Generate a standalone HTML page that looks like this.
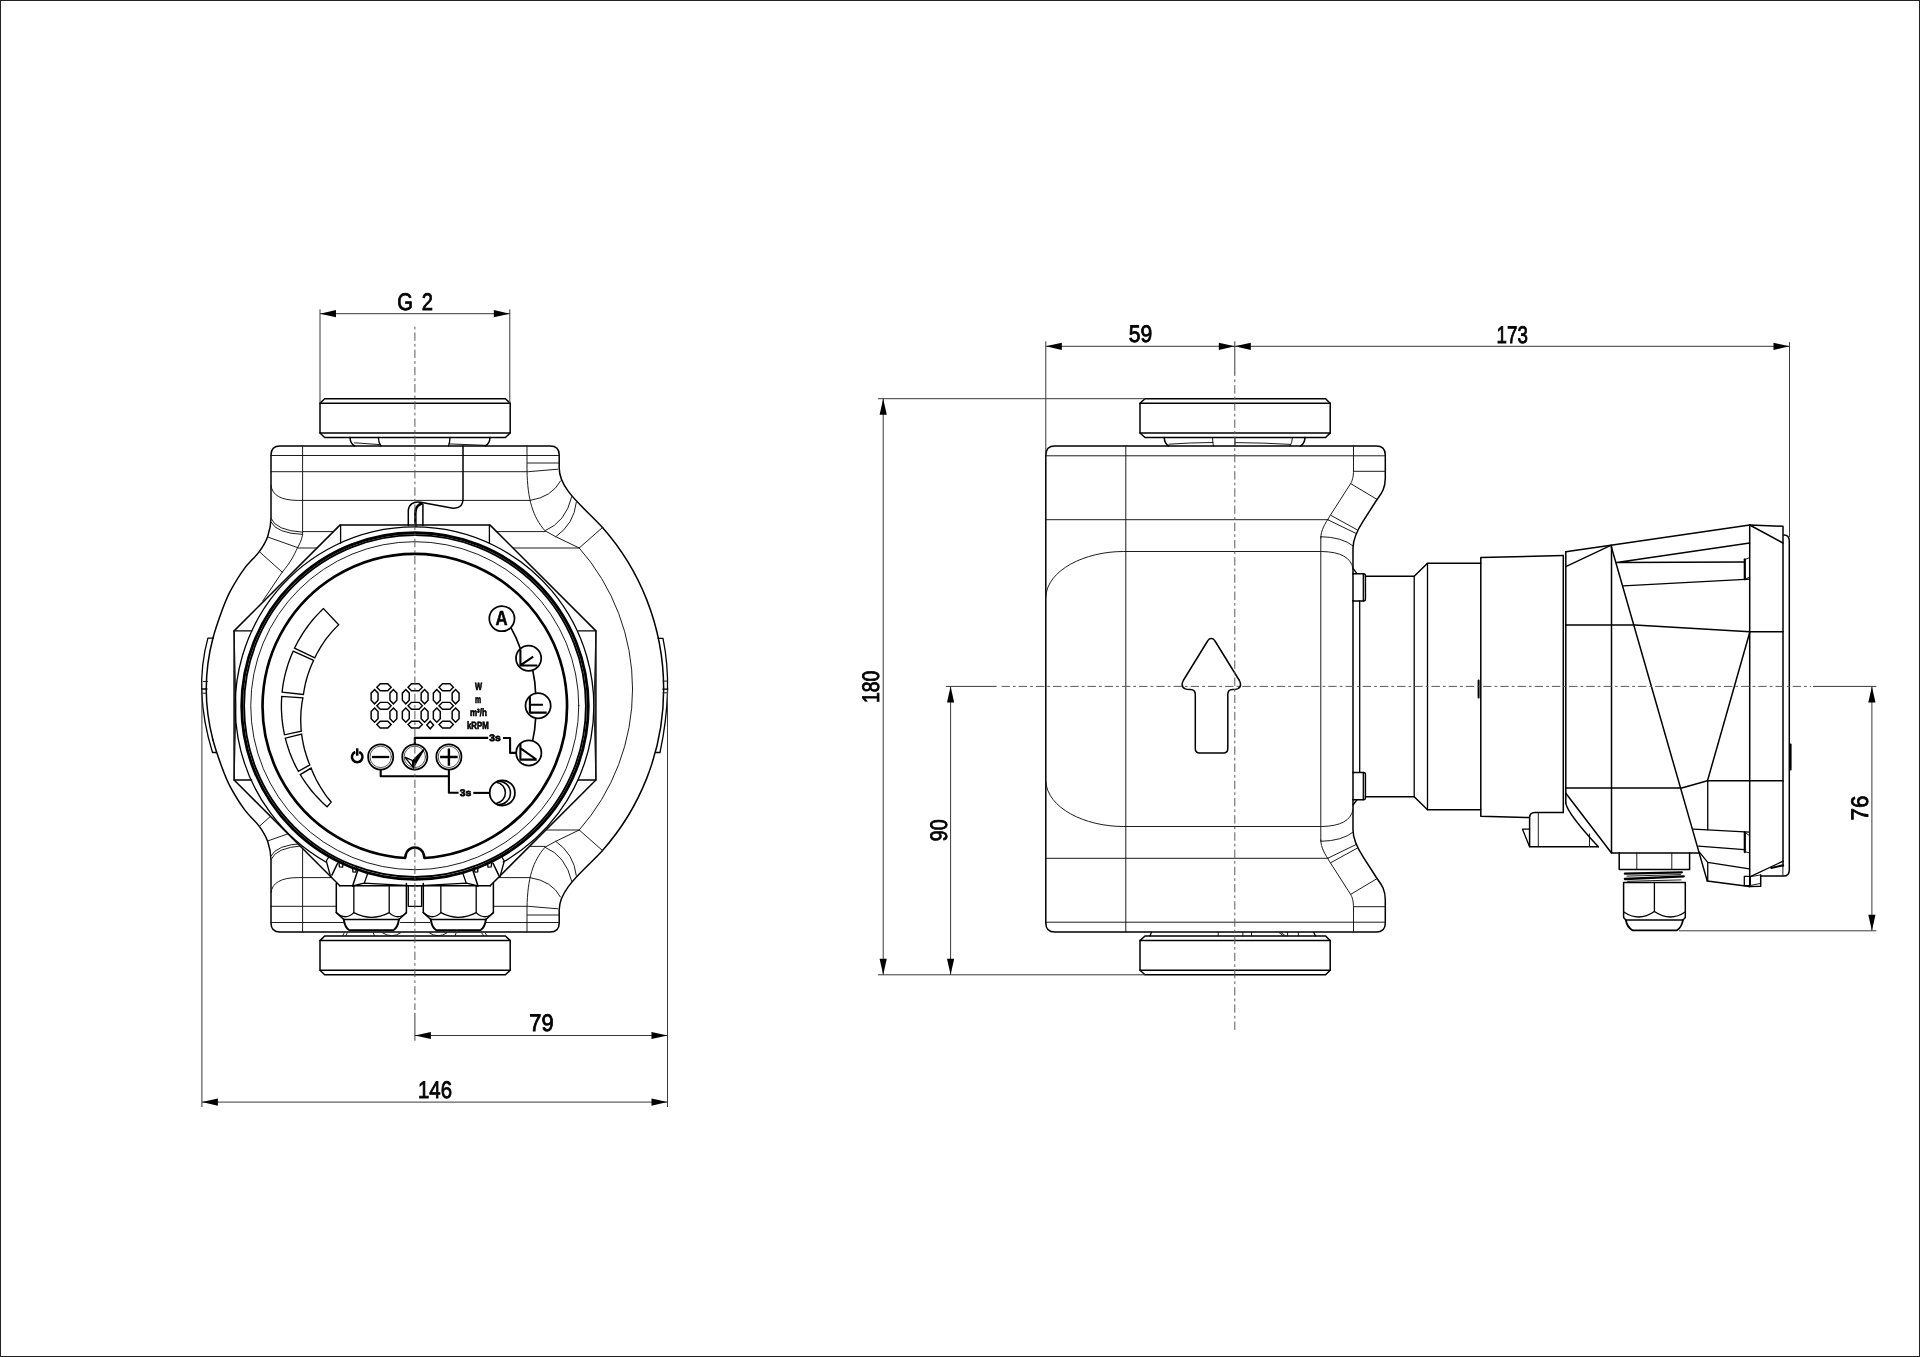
<!DOCTYPE html>
<html><head><meta charset="utf-8"><title>Pump dimensional drawing</title>
<style>
html,body{margin:0;padding:0;background:#fff;}
body{width:1920px;height:1357px;overflow:hidden;font-family:"Liberation Sans",sans-serif;}
svg{display:block}
.k{fill:none;stroke:#000;stroke-width:1.5;stroke-linejoin:round;stroke-linecap:round}
.k2{fill:none;stroke:#000;stroke-width:1.3;stroke-linejoin:round;stroke-linecap:round}
.kk{fill:none;stroke:#000;stroke-width:2.7}
.n{fill:none;stroke:#111;stroke-width:0.95;stroke-linecap:round}
.d{fill:none;stroke:#3a3a3a;stroke-width:1}
.c{fill:none;stroke:#5a5a5a;stroke-width:1}
.f{fill:#000;stroke:none}
.t{fill:#000;stroke:#000;font-family:"Liberation Sans",sans-serif;text-rendering:geometricPrecision}
text{filter:grayscale(1)}
.i{fill:none;stroke:#000;stroke-width:1.5;stroke-linejoin:round;stroke-linecap:butt}
.s{fill:none;stroke:#000;stroke-width:1.45;stroke-linejoin:miter}
</style></head>
<body>
<svg width="1920" height="1357" viewBox="0 0 1920 1357">
<rect x="0" y="0" width="1920" height="1357" fill="#fff"/>
<defs>
<clipPath id="hcl"><path clip-rule="evenodd" d="M0,0H960V1357H0Z M339.9,525.1L490.1,525.1L595.9,630.9L595.9,780L493.3,882.6L493.3,913L486,920L482,931L349,931L344,920L336.3,913L336.3,882.5L234.1,780L234.1,630.9Z"/></clipPath>
</defs>
<!-- RIGHT VIEW -->
<path class="k" d="M1145,398.7H1325.6L1330.2,403.3V433.0L1325.6,437.5H1145L1140,433.0V403.3Z"/>
<path class="k" d="M1140,403.3H1330.2M1140,433.0H1330.2"/>
<path class="k" d="M1145,936.0H1325.6L1330.2,940.6V970.3L1325.6,974.8H1145L1140,970.3V940.6Z"/>
<path class="k" d="M1140,940.6H1330.2M1140,970.3H1330.2"/>
<path class="k" d="M1164.2,437.5Q1164.6,443.6 1168.6,446M1305,437.5Q1304.6,443.6 1300.6,446"/>
<path class="n" d="M1212.5,437.5Q1212.7,443 1213.4,446M1235,437.5V446M1292.5,437.5Q1292,443 1290.2,446"/>
<path class="n" d="M1169,444.2Q1190,442.6 1213,442.5M1235,442.6Q1265,442.8 1290.5,444.4"/>
<path class="k2" d="M1151.4,932.3L1150,936M1313.8,932.3L1315.4,936"/>
<path class="n" d="M1218.2,932.5V936M1242.9,932.5V936M1251.5,932.5V936M1279,932.5L1283.5,936M1281,932.5L1285.5,936M1287.6,932.5V936M1298.4,932.5V936"/>
<path class="k" d="M1045.8,455Q1045.8,446 1054.8,446H1376.3Q1385.3,446 1385.3,455V478.3C1385.3,490 1380,495 1376.7,500L1363.3,520.8C1358,529 1353,538 1353,548V573.7"/>
<g transform="translate(0,1378.0) scale(1,-1)">
<path class="k" d="M1045.8,455Q1045.8,446 1054.8,446H1376.3Q1385.3,446 1385.3,455V478.3C1385.3,490 1380,495 1376.7,500L1363.3,520.8C1358,529 1353,538 1353,548V578.3"/>
</g>
<path class="k" d="M1045.8,455L1045.8,923"/>
<path class="k" d="M1353,600.8L1353,772.5"/>
<path class="k2" d="M1359.7,601L1359.7,772.3"/>
<path class="n" d="M1045.8,455.8H1384.6"/>
<path class="n" d="M1045.8,519.7H1328.4"/>
<path class="n" d="M1045.8,596.7C1047,570 1085,551.5 1123.3,551.5H1321.7Q1350,552 1353,568.3"/>
<path class="n" d="M1353.5,446V470C1353.5,478 1352,481 1350.8,483.3L1330,515.8C1325,524 1320.8,530 1320.8,538"/>
<path class="n" d="M1353.5,471.3H1385"/>
<path class="n" d="M1320.8,536.7Q1342,537 1353.3,546"/>
<path class="n" d="M1350.8,483.7L1376.7,499.2"/>
<path class="n" d="M1330.8,515.3L1357.5,530"/>
<path class="n" d="M1328.3,520L1355.8,533.3"/>
<g transform="translate(0,1378.0) scale(1,-1)">
<path class="n" d="M1045.8,455.8H1384.6"/>
<path class="n" d="M1045.8,519.7H1328.4"/>
<path class="n" d="M1045.8,596.7C1047,570 1085,551.5 1123.3,551.5H1321.7Q1350,552 1353,568.3"/>
<path class="n" d="M1353.5,446V470C1353.5,478 1352,481 1350.8,483.3L1330,515.8C1325,524 1320.8,530 1320.8,538"/>
<path class="n" d="M1353.5,471.3H1385"/>
<path class="n" d="M1320.8,536.7Q1342,537 1353.3,546"/>
<path class="n" d="M1350.8,483.7L1376.7,499.2"/>
<path class="n" d="M1330.8,515.3L1357.5,530"/>
<path class="n" d="M1328.3,520L1355.8,533.3"/>
</g>
<path class="n" d="M1125.8,446L1125.8,932"/>
<path class="n" d="M1320.8,537L1320.8,841"/>
<path class="k" d="M1211.3,638.6Q1213.6,638.4 1215,641L1239.4,680.5Q1242.3,686 1238,688.6Q1236,689.6 1232.3,689.6Q1227.8,689.8 1227.8,694.5V748.5Q1227.8,753 1223.3,753H1199.8Q1195.3,753 1195.3,748.5V694.5Q1195.3,689.8 1190.5,689.6Q1186.5,689.6 1184.6,688.6Q1180.4,686 1183.3,680.5L1207.6,641Q1209,638.4 1211.3,638.6Z"/>
<path class="k" d="M1353,573.7H1363.6Q1365.4,573.7 1365.4,575.7V598.9Q1365.4,600.9 1363.6,600.9H1353"/>
<path class="k2" d="M1363.3,573.7L1363.3,600.9"/>
<path class="k" d="M1353,573.7L1353,600.9"/>
<path class="k" d="M1353,772.5H1363.6Q1365.4,772.5 1365.4,774.5V797.7Q1365.4,799.7 1363.6,799.7H1353"/>
<path class="k2" d="M1363.3,772.5L1363.3,799.7"/>
<path class="k" d="M1353,772.5L1353,799.7"/>
<path class="k2" d="M1353,568.3L1356.8,573.4M1353,805L1356.8,800"/>
<path class="k" d="M1365.4,576.3H1414.2L1427.5,563.3H1480.8M1365.4,796.7H1414.2L1427.5,809.7H1480.8"/>
<path class="k2" d="M1414.2,576.3L1414.2,796.7"/>
<path class="k2" d="M1427.5,563.3L1427.5,809.7"/>
<path class="k" d="M1480.8,557.5V816.3M1480.8,557.5L1563.3,555.5M1480.8,816.3L1529,817.5"/>
<path class="k" d="M1563.3,555.5V812.4M1565.8,551.7V803.3"/>
<path class="k" d="M1478.6,680.5V697.5" style="stroke-width:2"/>
<path class="k" d="M1563.3,812.5H1535Q1529.6,812.6 1529.6,817.5V846.7H1598.3"/>
<path class="k2" d="M1529.6,829.2H1522.5L1529.6,846.7"/>
<path class="n" d="M1538.3,813L1538.3,846.5"/>
<path class="n" d="M1589.5,834L1589.5,846.5"/>
<path class="k" d="M1565.8,551.7L1610.8,545.3L1749.7,525L1783,526.3V866.5"/>
<path class="k2" d="M1565.8,566.7L1610.8,545.3"/>
<path class="k" d="M1611.5,545.3V852.9H1699.4"/>
<path class="k" d="M1749.7,525L1749.7,886.7"/>
<path class="k" d="M1784,535Q1789.3,535 1789.3,541V870Q1789.3,876.1 1783.5,876.1H1760.7M1760.7,874.9V886.3L1749.4,886.6L1707.2,880.9"/>
<path class="k" d="M1749.7,525L1783,543"/>
<path class="k2" d="M1616.7,562.5L1749.7,543M1616.7,562.5L1744.2,562M1623.3,585.8L1749.7,579.2"/>
<path class="k" d="M1744.8,559.3V579.3" style="stroke-width:2.2"/>
<path class="n" d="M1745,559.6L1749.3,557.8M1745,579.2L1749.3,577.2"/>
<path class="k" d="M1611.3,546.7L1707.2,880.9"/>
<path class="k" d="M1565.8,625H1635L1749.7,631.7H1783"/>
<path class="k" d="M1749.7,632.5L1707.5,780.8"/>
<path class="k" d="M1565.8,788H1681.7L1707.5,780.8H1783"/>
<path class="k2" d="M1707.75,780.8V829.7M1707.75,862.3V880.9"/>
<path class="k" d="M1565.8,793.3L1611.5,853"/>
<path class="k" d="M1565.8,803.3Q1568,814 1598.3,846.7"/>
<path class="k2" d="M1693.4,829.1L1749.4,832.1M1698.5,846.1L1744.3,849.7M1699.4,852.1L1707.75,862.3L1749.4,868.9"/>
<path class="k" d="M1744.8,832.4V852.1" style="stroke-width:2.2"/>
<path class="n" d="M1745,832.6L1749.4,835.5M1745,851.8L1749.4,852.8"/>
<path class="k2" d="M1744.3,876.4H1750.3V885.7H1744.3Z"/>
<path class="n" d="M1750.3,876.7L1760.7,874.9M1750.3,885.5L1760.7,883.4"/>
<path class="k2" d="M1750.3,876.7L1783.2,861.1"/>
<path class="k" d="M1771.2,867.9L1783.2,865.2" style="stroke-width:2"/>
<path class="n" d="M1782.9,867L1782.9,875.4"/>
<path class="k" d="M1790.6,744.5V769.5" style="stroke-width:2"/>
<path class="k" d="M1619.2,853V869.6H1689.6V853"/>
<path class="n" d="M1636.8,853V869.6M1671.8,853V869.6"/>
<path class="k" d="M1624.9,873.7L1681.8,872.3M1624.9,879L1683.8,876.3" style="stroke-width:2.3"/>
<path class="n" d="M1627,876.1L1680.5,874.6M1627.5,881.3L1681,879.9"/>
<path class="k" d="M1623.6,882.4H1685.3V917.4L1682.9,920M1623.6,882.4V917.4L1625.8,920"/>
<path class="k2" d="M1654.4,882.4L1654.4,911.6"/>
<path class="k2" d="M1623.8,912Q1639,922.2 1654.4,911.5Q1670,922.2 1685.2,912"/>
<path class="k2" d="M1625.8,920H1682.9"/>
<path class="k" d="M1625.8,920Q1627,926.8 1632.4,930.3H1677Q1682,926.8 1682.9,920" style="stroke-width:1.8"/>
<!-- LEFT VIEW -->
<path class="k" d="M324.7,398.7H505.4L510.2,403.3V433.0L505.4,437.5H324.7L320,433.0V403.3Z"/>
<path class="k" d="M320,403.3H510.2M320,433.0H510.2"/>
<path class="k" d="M324.7,936.0H505.4L510.2,940.6V970.3L505.4,974.8H324.7L320,970.3V940.6Z"/>
<path class="k" d="M320,940.6H510.2M320,970.3H510.2"/>
<path class="k" d="M350,437.5Q350.3,443.6 354.6,446 M490,437.5Q489.7,443.6 485.4,446"/>
<path class="k2" d="M378.3,437.5Q378.6,443 381,446 M450,437.5Q449.7,443 448.6,446"/>
<path class="n" d="M354.5,442.8L380,444.6M449,443.9L485.5,445.3"/>
<path class="k" d="M212.9,638.3C215.2,629.5 219.3,617.9 222.2,610C225.1,602.1 226.6,598.1 230.3,591.1C234.1,584.1 239.8,574.7 244.7,568.1C249.6,561.5 255.7,556.7 259.5,551.4C263.3,546.1 265.8,542 267.7,536.5C269.6,531 270.9,524.4 271,518.3V455Q271,446 280,446H550.2Q559.2,446 559.2,455V468C559.2,490 585,508 602.5,527.5"/>
<g transform="translate(0,1378.0) scale(1,-1)">
<path class="k" d="M212.9,638.3C215.2,629.5 219.3,617.9 222.2,610C225.1,602.1 226.6,598.1 230.3,591.1C234.1,584.1 239.8,574.7 244.7,568.1C249.6,561.5 255.7,556.7 259.5,551.4C263.3,546.1 265.8,542 267.7,536.5C269.6,531 270.9,524.4 271,518.3V455Q271,446 280,446H550.2Q559.2,446 559.2,455V468C559.2,490 585,508 602.5,527.5"/>
</g>
<path class="k" d="M212.9,638.3A200,200 0 0 0 212.9,739.7"/>
<path class="k" d="M602.5,527.5A243.8,243.8 0 0 1 602.5,850.5"/>
<path class="k2" d="M212.8,638.2H207.9Q193.4,690.6 212.5,752.5H215.9"/>
<path class="n" d="M203.2,681.5H207.4M202.6,693.2H206.6"/>
<path class="k2" d="M202.2,689H207"/>
<path class="k2" d="M658.2,638.3H663Q673.5,688.6 660,752.5H655.6"/>
<path class="n" d="M663,681.1H667.4M663.2,692.8H667.6"/>
<path class="k2" d="M662.8,689.1H667.8"/>
<g clip-path="url(#hcl)">
<path class="n" d="M270.8,455.5H558.5"/>
<path class="n" d="M270.8,471.7H528.3L557.8,469.2"/>
<path class="n" d="M527.5,463H558.5"/>
<path class="n" d="M271,485.3Q272.5,500.4 298.3,500.4H530Q552,497 560.5,481"/>
<path class="n" d="M302.6,531.6H545"/>
<path class="n" d="M298.5,548H579.2"/>
<path class="n" d="M302.6,446V534.6C301.5,541 299.5,544 297.4,548C294,555 291,562 282,572.4L262.9,600.7"/>
<path class="n" d="M271,518.3Q275.5,530.5 302.6,532.2"/>
<path class="n" d="M271,522.1Q276.5,533.3 302.6,534.4"/>
<path class="n" d="M268.2,537.2L297.9,547.7"/>
<path class="n" d="M259.5,551.8L282.5,572.4"/>
<path class="n" d="M527,446V470C527.5,500 533,517 545,530.8L555.8,536.7L579.2,548"/>
<path class="n" d="M545,530.8Q566,522 571.7,496.7"/>
<path class="n" d="M555.8,536.7Q574,524 576.3,502.5"/>
<path class="n" d="M579.2,548L602.5,527.5"/>
<g transform="translate(0,1378.0) scale(1,-1)">
<path class="n" d="M270.8,455.5H558.5"/>
<path class="n" d="M270.8,471.7H528.3L557.8,469.2"/>
<path class="n" d="M527.5,463H558.5"/>
<path class="n" d="M271,485.3Q272.5,500.4 298.3,500.4H530Q552,497 560.5,481"/>
<path class="n" d="M302.6,531.6H545"/>
<path class="n" d="M298.5,548H579.2"/>
<path class="n" d="M302.6,446V534.6C301.5,541 299.5,544 297.4,548C294,555 291,562 282,572.4L262.9,600.7"/>
<path class="n" d="M271,518.3Q275.5,530.5 302.6,532.2"/>
<path class="n" d="M271,522.1Q276.5,533.3 302.6,534.4"/>
<path class="n" d="M268.2,537.2L297.9,547.7"/>
<path class="n" d="M259.5,551.8L282.5,572.4"/>
<path class="n" d="M527,446V470C527.5,500 533,517 545,530.8L555.8,536.7L579.2,548"/>
<path class="n" d="M545,530.8Q566,522 571.7,496.7"/>
<path class="n" d="M555.8,536.7Q574,524 576.3,502.5"/>
<path class="n" d="M579.2,548L602.5,527.5"/>
</g>
<path class="n" d="M579.2,548A212.6,212.6 0 0 1 579.2,830"/>
</g>
<path class="k" d="M463,446V498.3Q463,508.8 453,508.3L420.6,502.2C414,501 408.3,504 408.3,511.4V525.5"/>
<path class="k" d="M421.6,503.5C417.5,505 415.4,508 415.4,513V526" style="stroke-width:2.5"/>
<path class="k" d="M422.9,504.6V525.5"/>
<path class="k" d="M339.9,525.1H490.1L595.9,630.9V780L490.2,885.7 M339.9,525.1L234.1,630.9V780L339.8,885.7"/>
<path class="k2" d="M234.1,630.9H251.7M595.9,630.9H578.3M340.6,525.1V543M489.4,525.1V543"/>
<path class="k2" d="M234.1,780H251.7M595.9,780H578.3"/>
<path class="n" d="M234.1,630.9L236,706L234.1,780M595.9,630.9L594,706L595.9,780"/>
<path class="k2" d="M503.2,862A179.3,179.3 0 1 0 325.8,862"/>
<circle class="k" cx="415" cy="706.05" r="173.3" style="stroke-width:2.8"/>
<circle class="k" cx="415" cy="706.05" r="170.9" style="stroke-width:1.85"/>
<circle class="n" cx="414.75" cy="705.7" r="164"/>
<path class="k" d="M424.5,858L423.8,854.8A9.2,9.2 0 0 0 405.8,854.8L405.1,858A152.25,152.25 0 1 1 424.5,858" style="stroke-width:2.65"/>
<path class="k" d="M340,885.7H490.4"/>
<path class="k" d="M336.3,883.4V912.6M406.4,883.4V912.6"/>
<path class="k2" d="M353.85,886V912.6M389.2,886V912.6"/>
<path class="k2" d="M336.3,912.6Q345.08,920.8 353.85,912.6Q371.52,922 389.2,912.6Q397.8,920.8 406.4,912.6"/>
<path class="k" d="M336.3,912.6L343.8,919.5M406.4,912.6L398.9,919.5"/>
<path class="k2" d="M343.8,919.5H398.9"/>
<path class="k" d="M343.8,919.5Q344.9,927.5 349.3,930.2H393.4Q397.8,927.5 398.9,919.5" style="stroke-width:1.9"/>
<path class="k" d="M423.3,883.4V912.6M493.4,883.4V912.6"/>
<path class="k2" d="M440.85,886V912.6M476.2,886V912.6"/>
<path class="k2" d="M423.3,912.6Q432.08,920.8 440.85,912.6Q458.52,922 476.2,912.6Q484.8,920.8 493.4,912.6"/>
<path class="k" d="M423.3,912.6L430.8,919.5M493.4,912.6L485.9,919.5"/>
<path class="k2" d="M430.8,919.5H485.9"/>
<path class="k" d="M430.8,919.5Q431.9,927.5 436.3,930.2H480.4Q484.8,927.5 485.9,919.5" style="stroke-width:1.9"/>
<path class="k2" d="M408.3,886V906.3H421.6V886"/>
<path class="k2" d="M326.3,861L330.7,877M326.3,861L328.5,857.5"/>
<path class="k" d="M331.9,875.1L337.6,863.2"/>
<path class="k2" d="M338.8,861.6L339.4,866.9L342.6,867.2L343.2,862.5"/>
<path class="k2" d="M352.6,867.2L352.9,871.9L355.7,872.2L356.7,867.5"/>
<path class="k" d="M352.6,886L357.9,870"/>
<path class="k2" d="M364.5,882.6L367.6,873.8"/>
<path class="k2" d="M352.6,886L363.9,883.2L414,885.9"/>
<g transform="translate(830.6,0) scale(-1,1)">
<path class="k2" d="M326.3,861L330.7,877M326.3,861L328.5,857.5"/>
<path class="k" d="M331.9,875.1L337.6,863.2"/>
<path class="k2" d="M338.8,861.6L339.4,866.9L342.6,867.2L343.2,862.5"/>
<path class="k2" d="M352.6,867.2L352.9,871.9L355.7,872.2L356.7,867.5"/>
<path class="k" d="M352.6,886L357.9,870"/>
<path class="k2" d="M364.5,882.6L367.6,873.8"/>
<path class="k2" d="M352.6,886L363.9,883.2L414,885.9"/>
</g>
<path class="n" d="M344.2,933L342.6,935.8M347.3,933L345.7,935.8M373.3,933L374.4,935.8M382.7,933Q392,938.6 400.4,933M429.6,933Q437.9,938.6 446.8,933M456.1,933L455.1,935.8M481.7,933L483.7,935.8M485.3,933L486.9,935.8"/>
<path class="n" d="M400.5,922.5H429.8"/>
<path class="s" d="M323.5,608.6L320.5,611.4L317.7,614.4L314.9,617.4L312.2,620.5L309.7,623.7L307.2,627.0L304.8,630.4L302.5,633.8L300.4,637.3L298.3,640.8L296.4,644.5L294.5,648.1L314.8,657.9L316.3,654.8L317.9,651.8L319.6,648.8L321.4,645.9L323.3,643.0L325.2,640.2L327.3,637.4L329.4,634.8L331.6,632.1L333.9,629.6L336.3,627.1L338.7,624.7Z" style="stroke-width:1.35"/>
<path class="s" d="M293.2,651.1L291.7,654.4L290.4,657.7L289.2,661.0L288.0,664.4L287.0,667.8L286.0,671.2L285.1,674.7L284.3,678.2L283.6,681.7L283.0,685.2L282.5,688.7L282.1,692.2L303.4,694.4L303.9,691.5L304.4,688.5L305.0,685.6L305.6,682.7L306.4,679.8L307.2,676.9L308.1,674.1L309.1,671.3L310.1,668.5L311.2,665.7L312.4,663.0L313.6,660.3Z" style="stroke-width:1.35"/>
<path class="s" d="M281.7,696.4L281.6,699.6L281.4,702.8L281.4,706.1L281.4,709.3L281.6,712.5L281.8,715.7L282.0,718.9L282.4,722.1L282.8,725.3L283.3,728.4L283.9,731.6L284.5,734.8L301.3,731.1L301.0,728.3L300.9,725.5L300.8,722.7L300.7,719.9L300.8,717.1L300.9,714.3L301.0,711.5L301.3,708.8L301.6,706.0L301.9,703.3L302.4,700.6L302.9,697.9Z" style="stroke-width:1.35"/>
<path class="s" d="M285.3,738.2L286.1,741.1L286.9,743.9L287.8,746.8L288.7,749.6L289.7,752.4L290.8,755.2L291.9,757.9L293.1,760.7L294.3,763.4L295.6,766.1L297.0,768.7L298.4,771.3L309.8,764.9L308.8,762.4L307.9,759.9L307.0,757.4L306.1,754.8L305.4,752.3L304.6,749.7L304.0,747.1L303.4,744.5L302.9,741.9L302.4,739.3L302.0,736.7L301.6,734.1Z" style="stroke-width:1.35"/>
<path class="s" d="M300.3,774.6L302.1,777.5L304.0,780.5L306.0,783.4L308.1,786.2L310.2,789.0L312.4,791.7L314.7,794.4L317.1,797.0L319.5,799.5L321.9,802.0L324.5,804.4L327.1,806.7L331.2,802.1L329.1,799.5L327.0,796.8L325.0,794.1L323.2,791.3L321.3,788.5L319.6,785.7L318.0,782.9L316.4,780.0L315.0,777.0L313.6,774.1L312.3,771.1L311.1,768.1Z" style="stroke-width:1.35"/>
<path class="s" d="M376.85,687.2L380.25,683.75H387.75L391.15,687.2L387.75,690.65H380.25ZM376.85,705.8L380.25,702.35H387.75L391.15,705.8L387.75,709.25H380.25ZM376.85,724.6L380.25,721.15H387.75L391.15,724.6L387.75,728.05H380.25ZM374.6,689.55L378.05,693.15V700.25L374.6,703.85L371.15,700.25V693.15ZM393.4,689.55L396.85,693.15V700.25L393.4,703.85L389.95,700.25V693.15ZM374.6,707.95L378.05,711.55V718.65L374.6,722.25L371.15,718.65V711.55ZM393.4,707.95L396.85,711.55V718.65L393.4,722.25L389.95,718.65V711.55Z"/>
<path class="s" d="M408.05,687.2L411.45,683.75H418.95L422.35,687.2L418.95,690.65H411.45ZM408.05,705.8L411.45,702.35H418.95L422.35,705.8L418.95,709.25H411.45ZM408.05,724.6L411.45,721.15H418.95L422.35,724.6L418.95,728.05H411.45ZM405.8,689.55L409.25,693.15V700.25L405.8,703.85L402.35,700.25V693.15ZM424.6,689.55L428.05,693.15V700.25L424.6,703.85L421.15,700.25V693.15ZM405.8,707.95L409.25,711.55V718.65L405.8,722.25L402.35,718.65V711.55ZM424.6,707.95L428.05,711.55V718.65L424.6,722.25L421.15,718.65V711.55Z"/>
<path class="s" d="M439.05,687.2L442.45,683.75H449.95L453.35,687.2L449.95,690.65H442.45ZM439.05,705.8L442.45,702.35H449.95L453.35,705.8L449.95,709.25H442.45ZM439.05,724.6L442.45,721.15H449.95L453.35,724.6L449.95,728.05H442.45ZM436.8,689.55L440.25,693.15V700.25L436.8,703.85L433.35,700.25V693.15ZM455.6,689.55L459.05,693.15V700.25L455.6,703.85L452.15,700.25V693.15ZM436.8,707.95L440.25,711.55V718.65L436.8,722.25L433.35,718.65V711.55ZM455.6,707.95L459.05,711.55V718.65L455.6,722.25L452.15,718.65V711.55Z"/>
<path class="s" d="M430.2,721.2L433.6,725L430.2,728.8L426.8,725Z"/>
<text class="t" transform="translate(478.5,689.8) scale(0.72,1)" font-size="10.4" font-weight="bold" text-anchor="middle" stroke-width="0.7">W</text>
<text class="t" transform="translate(478.1,702.8) scale(0.66,1)" font-size="10.4" font-weight="bold" text-anchor="middle" stroke-width="0.7">m</text>
<text class="t" transform="translate(478.4,715.8) scale(0.77,1)" font-size="10.4" font-weight="bold" text-anchor="middle" stroke-width="0.7">m³/h</text>
<text class="t" transform="translate(477.8,728.8) scale(0.75,1)" font-size="10.4" font-weight="bold" text-anchor="middle" stroke-width="0.7">kRPM</text>
<circle class="i" cx="380.7" cy="756.9" r="12.6" style="stroke-width:1.75"/>
<circle class="n" cx="380.7" cy="756.9" r="10.7" style="stroke:#444;stroke-width:0.9"/>
<circle class="i" cx="414.8" cy="756.9" r="12.6" style="stroke-width:1.75"/>
<circle class="n" cx="414.8" cy="756.9" r="10.7" style="stroke:#444;stroke-width:0.9"/>
<circle class="i" cx="448.9" cy="756.9" r="12.6" style="stroke-width:1.75"/>
<circle class="n" cx="448.9" cy="756.9" r="10.7" style="stroke:#444;stroke-width:0.9"/>
<path class="i" d="M371.9,757H389.2" style="stroke-width:2.3"/>
<path class="i" d="M440.1,757H457.7M448.9,748.4V765.7" style="stroke-width:2.4"/>
<path class="f" d="M412,760.6L423.3,748.9L424.4,749.9L413.8,767.9L412.6,767.2Z"/>
<path class="k" d="M404.8,757.2L412.3,760.5L413.2,767.4Z" style="stroke-width:1.3;stroke-linejoin:miter"/>
<path class="i" d="M355.2,752A5.3,5.3 0 1 0 359.2,752" style="stroke-width:2.5"/>
<path class="i" d="M357.2,748.3V755.7" style="stroke-width:2.5"/>
<path class="i" d="M414.8,744.2V737.9H488.2" style="stroke-width:2.1"/>
<path class="i" d="M503,738H510.1V752.9H516.3" style="stroke-width:2.1"/>
<path class="i" d="M380.7,769.5V776.3H448.9" style="stroke-width:2.1"/>
<path class="i" d="M448.9,769.5V792.7H458.6" style="stroke-width:2.1"/>
<path class="i" d="M473.3,792.9H489.3" style="stroke-width:2.1"/>
<text class="t" transform="translate(494.9,741.3) scale(1.08,1)" font-size="9.6" font-weight="bold" text-anchor="middle" stroke-width="0.7">3s</text>
<text class="t" transform="translate(465.6,795.8) scale(1.08,1)" font-size="9.6" font-weight="bold" text-anchor="middle" stroke-width="0.7">3s</text>
<path class="i" d="M510.9,627.6A123,123 0 0 1 520.3,648.6" style="stroke-width:1.65"/>
<path class="i" d="M532.8,670.5A123,123 0 0 1 535.6,693" style="stroke-width:1.65"/>
<path class="i" d="M535.6,718.6A123,123 0 0 1 532.6,740.9" style="stroke-width:1.65"/>
<circle class="i" cx="501.9" cy="618.6" r="12.6" style="stroke-width:1.75"/>
<circle class="i" cx="528.6" cy="658.2" r="12.6" style="stroke-width:1.75"/>
<circle class="i" cx="538.1" cy="705.7" r="12.6" style="stroke-width:1.75"/>
<circle class="i" cx="528.8" cy="752.9" r="12.6" style="stroke-width:1.75"/>
<circle class="i" cx="502.3" cy="792.9" r="12.6" style="stroke-width:1.75"/>
<text class="t" transform="translate(501.6,624.7) scale(0.83,1)" font-size="20.2" font-weight="bold" text-anchor="middle" stroke-width="0.5">A</text>
<path class="i" d="M520.4,649.6V665.5H537.3M520.7,665.1L533.2,656.7" style="stroke-width:2.1"/>
<path class="i" d="M529.9,696.6V712.6H546.7M530.4,704.7H543" style="stroke-width:2.1"/>
<path class="i" d="M520.4,743.9V759.6H536.7M521,748.6L536.4,759.5" style="stroke-width:2.1"/>
<path class="i" d="M496.2,782.3A10.65,10.65 0 0 1 496.2,803.4"/>
<path class="i" d="M497.5,781.2A11.76,11.76 0 1 1 497.5,804.6"/>
<!-- page border -->
<rect x="0.5" y="0.5" width="1919" height="1356" fill="none" stroke="#222" stroke-width="1" shape-rendering="crispEdges"/>
<g id="dims">
<path class="d" d="M320,309.4L320,403"/>
<path class="d" d="M509.8,309.4L509.8,403"/>
<path class="d" d="M320,313.7L509.8,313.7"/>
<path class="f" d="M320.00,313.70L336.00,310.10L336.00,317.30Z"/>
<path class="f" d="M509.80,313.70L493.80,317.30L493.80,310.10Z"/>
<text class="t" transform="translate(405.2,309.6) scale(0.84,1)" font-size="24" font-weight="normal" text-anchor="middle" stroke-width="0.85">G</text>
<text class="t" transform="translate(427.3,309.6) scale(0.84,1)" font-size="24" font-weight="normal" text-anchor="middle" stroke-width="0.85">2</text>
<path class="c" d="M414.9,326.7V1010" stroke-dasharray="2.7 3.05 8.4 3.05"/>
<path class="d" d="M414.9,1013L414.9,1040.7"/>
<path class="d" d="M414.9,1035.5L667.5,1035.5"/>
<path class="f" d="M414.90,1035.50L430.90,1031.90L430.90,1039.10Z"/>
<path class="f" d="M667.50,1035.50L651.50,1039.10L651.50,1031.90Z"/>
<text class="t" transform="translate(541.4,1031.2) scale(0.91,1)" font-size="24" font-weight="normal" text-anchor="middle" stroke-width="0.85">79</text>
<path class="d" d="M201.9,690L201.9,1107"/>
<path class="d" d="M667.5,690L667.5,1107"/>
<path class="d" d="M201.9,1102.1L667.5,1102.1"/>
<path class="f" d="M201.90,1102.10L217.90,1098.50L217.90,1105.70Z"/>
<path class="f" d="M667.50,1102.10L651.50,1105.70L651.50,1098.50Z"/>
<text class="t" transform="translate(435,1097.9) scale(0.85,1)" font-size="24" font-weight="normal" text-anchor="middle" stroke-width="0.85">146</text>
<path class="d" d="M1045.8,341.3L1045.8,455"/>
<path class="d" d="M1789.5,342.2L1789.5,537"/>
<path class="d" d="M1045.8,346.3L1789.5,346.3"/>
<path class="f" d="M1045.80,346.30L1061.80,342.70L1061.80,349.90Z"/>
<path class="f" d="M1234.80,346.30L1218.80,349.90L1218.80,342.70Z"/>
<path class="f" d="M1234.80,346.30L1250.80,342.70L1250.80,349.90Z"/>
<path class="f" d="M1789.50,346.30L1773.50,349.90L1773.50,342.70Z"/>
<text class="t" transform="translate(1140.5,342) scale(0.88,1)" font-size="24" font-weight="normal" text-anchor="middle" stroke-width="0.85">59</text>
<text class="t" transform="translate(1512.2,342.6) scale(0.78,1)" font-size="24" font-weight="normal" text-anchor="middle" stroke-width="0.85">173</text>
<path class="d" d="M1234.8,341.3L1234.8,375.8"/>
<path class="c" d="M1234.8,379.4V1033" stroke-dasharray="2.7 3.05 8.4 3.05"/>
<path class="d" d="M877.9,398.7L1145,398.7"/>
<path class="d" d="M877.9,974.8L1145,974.8"/>
<path class="d" d="M883.2,398.7L883.2,974.8"/>
<path class="f" d="M883.20,398.70L886.80,414.70L879.60,414.70Z"/>
<path class="f" d="M883.20,974.80L879.60,958.80L886.80,958.80Z"/>
<text class="t" transform="translate(878.6,686.9) rotate(-90) scale(0.81,1)" font-size="24" font-weight="normal" text-anchor="middle" stroke-width="0.85">180</text>
<path class="d" d="M945.8,686.4L996.6,686.4"/>
<path class="c" d="M1001.5,686.4H1811" stroke-dasharray="8.4 3.05 2.7 3.05"/>
<path class="d" d="M1813,686.4L1876.3,686.4"/>
<path class="d" d="M950.6,686.4L950.6,974.8"/>
<path class="f" d="M950.60,686.40L954.20,702.40L947.00,702.40Z"/>
<path class="f" d="M950.60,974.80L947.00,958.80L954.20,958.80Z"/>
<text class="t" transform="translate(947.2,830.3) rotate(-90) scale(0.82,1)" font-size="24" font-weight="normal" text-anchor="middle" stroke-width="0.85">90</text>
<path class="d" d="M1679,930.8L1876.3,930.8"/>
<path class="d" d="M1871.9,686.4L1871.9,930.8"/>
<path class="f" d="M1871.90,686.40L1875.50,702.40L1868.30,702.40Z"/>
<path class="f" d="M1871.90,930.80L1868.30,914.80L1875.50,914.80Z"/>
<text class="t" transform="translate(1868.2,808) rotate(-90) scale(0.93,1)" font-size="24" font-weight="normal" text-anchor="middle" stroke-width="0.85">76</text>
</g>
</svg>
</body></html>
